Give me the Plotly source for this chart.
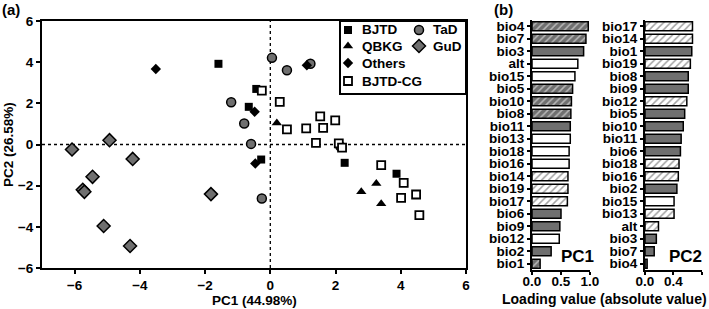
import plotly.graph_objects as go

# ---------------- data: panel (a) PCA scores ----------------
bjtd_x = [-1.59, -0.43, -0.66, -0.28, 2.28, 3.87]
bjtd_y = [3.92, 2.70, 1.83, -0.73, -0.89, -1.42]
tad_x = [-1.20, 0.05, 0.51, 1.23, -0.80, -0.59, -0.26, 2.15]
tad_y = [2.05, 4.21, 3.61, 3.92, 1.02, 0.03, -2.62, -0.10]
qbkg_x = [0.20, 3.25, 2.79, 3.40]
qbkg_y = [1.05, -1.89, -2.30, -2.88]
gud_x = [-6.08, -4.93, -4.22, -5.45, -5.75, -5.70, -5.11, -4.30, -1.82]
gud_y = [-0.24, 0.21, -0.70, -1.57, -2.20, -2.30, -3.96, -4.93, -2.41]
others_x = [-3.51, -0.48, -0.46, 1.12]
others_y = [3.67, 1.59, -0.92, 3.85]
cg_x = [-0.26, 0.29, 0.51, 1.10, 1.53, 1.62, 1.99, 1.40, 2.10, 2.20, 3.40, 4.09, 4.01, 4.47, 4.57]
cg_y = [2.62, 2.07, 0.73, 0.78, 1.37, 0.81, 1.17, 0.08, 0.05, -0.15, -1.00, -1.86, -2.59, -2.43, -3.43]

x_ticks = [-6, -4, -2, 0, 2, 4, 6]
y_ticks = [-6, -4, -2, 0, 2, 4, 6]

# ---------------- data: panel (b) loadings ----------------
pc1_vars = ["bio4", "bio7", "bio3", "alt", "bio15", "bio5", "bio10", "bio8", "bio11", "bio13",
            "bio18", "bio16", "bio14", "bio19", "bio17", "bio6", "bio9", "bio12", "bio2", "bio1"]
pc1_vals = [0.97, 0.93, 0.89, 0.79, 0.74, 0.70, 0.68, 0.67, 0.66, 0.66,
            0.64, 0.64, 0.62, 0.62, 0.61, 0.50, 0.48, 0.47, 0.33, 0.14]
pc1_kind = ["D", "D", "G", "W", "W", "D", "D", "D", "G", "W",
            "W", "W", "H", "H", "H", "G", "G", "W", "G", "D"]

pc2_vars = ["bio17", "bio14", "bio1", "bio19", "bio8", "bio9", "bio12", "bio5", "bio10", "bio11",
            "bio6", "bio18", "bio16", "bio2", "bio15", "bio13", "alt", "bio3", "bio7", "bio4"]
pc2_vals = [0.67, 0.67, 0.66, 0.64, 0.61, 0.61, 0.59, 0.56, 0.54, 0.51,
            0.50, 0.48, 0.47, 0.45, 0.41, 0.41, 0.19, 0.16, 0.13, 0.03]
pc2_kind = ["H", "H", "G", "H", "G", "G", "H", "G", "G", "G",
            "G", "H", "H", "G", "W", "H", "H", "G", "G", "G"]

# ---------------- styles ----------------
FONT = "Liberation Sans, Arial, Helvetica, sans-serif"
GRAY = "#6f6f6f"
W, H = 709, 309

def px(x):
    return x / W

def py(y):
    return 1 - y / H

styles = {
    "BJTD": dict(symbol="square", color="black", size=8, line=dict(width=0)),
    "TaD": dict(symbol="circle", color=GRAY, size=9, line=dict(color="black", width=1.5)),
    "QBKG": dict(symbol="triangle-up", color="black", size=9, line=dict(width=0)),
    "GuD": dict(symbol="diamond", color=GRAY, size=10, line=dict(color="black", width=1.5)),
    "Others": dict(symbol="diamond", color="black", size=8, line=dict(width=0)),
    "BJTD-CG": dict(symbol="square", color="white", size=8, line=dict(color="black", width=1.8)),
}
groups = [
    ("GuD", gud_x, gud_y),
    ("TaD", tad_x, tad_y),
    ("Others", others_x, others_y),
    ("BJTD", bjtd_x, bjtd_y),
    ("QBKG", qbkg_x, qbkg_y),
    ("BJTD-CG", cg_x, cg_y),
]

fig = go.Figure()
for name, xs, ys in groups:
    fig.add_trace(go.Scatter(x=xs, y=ys, mode="markers", name=name, marker=styles[name],
                             showlegend=False, xaxis="x", yaxis="y"))

fill_map = {"D": GRAY, "G": GRAY, "W": "white", "H": "white"}
shape_map = {"D": "/", "G": "", "W": "", "H": "/"}

def add_bars(vars_, vals, kinds, xa, ya):
    fig.add_trace(go.Bar(
        x=vals, y=vars_, orientation="h", xaxis=xa, yaxis=ya, showlegend=False,
        marker=dict(color=[fill_map[k] for k in kinds],
                    line=dict(color="black", width=1.5),
                    pattern=dict(shape=[shape_map[k] for k in kinds], fillmode="overlay",
                                 fgcolor="#222222", size=5, solidity=0.3)),
    ))

add_bars(pc1_vars, pc1_vals, pc1_kind, "x2", "y2")
add_bars(pc2_vars, pc2_vals, pc2_kind, "x3", "y3")

# legend markers (pixel overlay axis)
legend_items = [("BJTD", 0, 0), ("TaD", 1, 0), ("QBKG", 0, 1), ("GuD", 1, 1),
                ("Others", 0, 2), ("BJTD-CG", 0, 3)]
col_x = [348, 419]
row_y = [30, 46, 63, 81]
for name, c, r in legend_items:
    st = dict(styles[name])
    fig.add_trace(go.Scatter(x=[col_x[c]], y=[row_y[r]], mode="markers", marker=st,
                             showlegend=False, xaxis="x4", yaxis="y4", hoverinfo="skip"))

annotations = []
for name, c, r in legend_items:
    annotations.append(dict(x=px(col_x[c] + 12), y=py(row_y[r]), xref="paper", yref="paper",
                            text=name, showarrow=False, xanchor="left", yanchor="middle",
                            font=dict(size=13.5, family=FONT, weight="bold", color="black")))

tickfont = dict(size=13.5, family=FONT, weight="bold", color="black")
axis_common = dict(showline=True, linecolor="black", linewidth=2, ticks="outside",
                   tickcolor="black", tickwidth=1.5, showgrid=False, zeroline=False,
                   tickfont=tickfont, automargin=False)

sc_dom_x = [px(42), px(466)]
sc_dom_y = [py(268), py(21)]

fig.update_layout(
    width=W, height=H, margin=dict(l=0, r=0, t=0, b=0, pad=0, autoexpand=False),
    paper_bgcolor="white", plot_bgcolor="rgba(0,0,0,0)",
    showlegend=False,
    bargap=0.28,
    xaxis=dict(domain=sc_dom_x, range=[-7, 6], tickvals=x_ticks, ticklen=4, anchor="y",
               mirror=True, **axis_common),
    yaxis=dict(domain=sc_dom_y, range=[-6, 6], tickvals=y_ticks, ticklen=4, anchor="x",
               mirror=True, **axis_common),
    xaxis2=dict(domain=[px(532), px(590)], range=[0, 1.0], tickvals=[0, 0.5, 1.0],
                tickformat=".1f", ticklen=3, ticklabelstandoff=-5, anchor="y2", **axis_common),
    yaxis2=dict(domain=[py(270), py(20)], categoryorder="array", categoryarray=pc1_vars,
                tickmode="array", tickvals=pc1_vars,
                autorange="reversed", ticklen=3, anchor="x2", **axis_common),
    xaxis3=dict(domain=[px(645), px(701.7)], range=[0, 0.8], tickvals=[0, 0.4, 0.8],
                tickformat=".1f", ticklen=3, ticklabelstandoff=-5, anchor="y3", **axis_common),
    yaxis3=dict(domain=[py(270), py(20)], categoryorder="array", categoryarray=pc2_vars,
                tickmode="array", tickvals=pc2_vars,
                autorange="reversed", ticklen=3, anchor="x3", **axis_common),
    xaxis4=dict(domain=[0, 1], range=[0, W], visible=False, anchor="y4", automargin=False),
    yaxis4=dict(domain=[0, 1], range=[H, 0], visible=False, anchor="x4", automargin=False),
)

shapes = [
    dict(type="line", xref="x", yref="y domain", x0=0, x1=0, y0=0, y1=1,
         line=dict(color="black", width=1.3, dash="dot"), layer="below"),
    dict(type="line", xref="x domain", yref="y", x0=0, x1=1, y0=0, y1=0,
         line=dict(color="black", width=1.3, dash="dot"), layer="below"),
    dict(type="rect", xref="paper", yref="paper", x0=px(340), x1=px(466), y0=py(94), y1=py(21),
         line=dict(color="black", width=2), fillcolor="white", layer="below"),
]

def label(x, y, text, size, **kw):
    d = dict(x=px(x), y=py(y), xref="paper", yref="paper", text=text, showarrow=False,
             xanchor="center", yanchor="middle",
             font=dict(size=size, family=FONT, weight="bold", color="black"))
    d.update(kw)
    return d

annotations += [
    label(254, 300, "PC1 (44.98%)", 13.5),
    label(8, 145, "PC2 (26.58%)", 13.5, textangle=-90),
    label(604, 299, "Loading value (absolute value)", 14),
    label(0, 10, "(a)", 15, xanchor="left"),
    label(492, 10, "(b)", 15, xanchor="left"),
    label(577, 256, "PC1", 17),
    label(685, 256, "PC2", 17),
]
fig.update_layout(shapes=shapes, annotations=annotations)

fig.write_html("out.html", config={"displayModeBar": False},
               post_script="document.body.style.margin='0';document.body.style.padding='0';"
                           "document.body.style.overflow='hidden';")
